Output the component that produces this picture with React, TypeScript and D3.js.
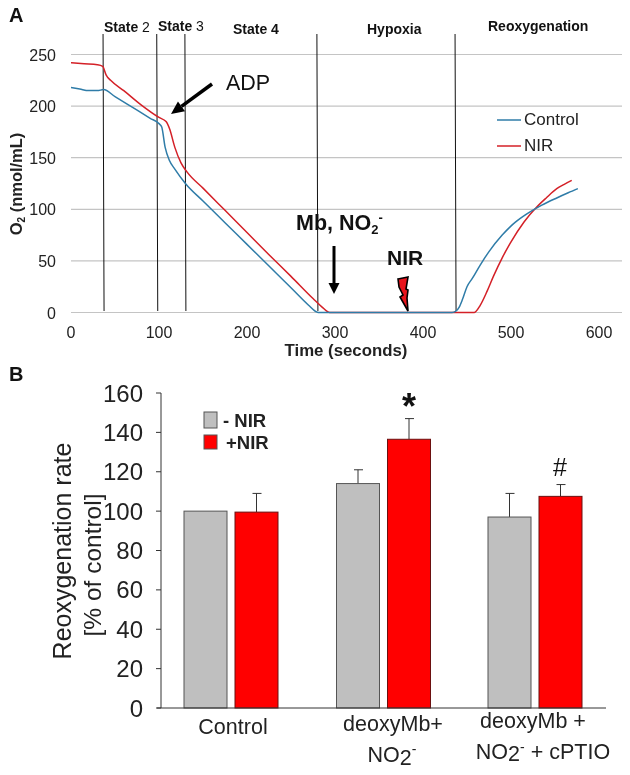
import React from "react";
import * as d3 from "d3";

const controlTime = [0,10,20,30,37,50,70,90,100,103,107,112,118,130,150,175,200,225,250,270,278,281,300,350,400,433,437,441,445,450,456,465,475,490,499,505,518,535,552,565,576];
const controlO2 = [218,216.5,215,215,216,209.2,198.7,188.2,183,180,160,147,139,125,108,87,66,45,24,7,1,0,0,0,0,0,1,5,13,25,33,46,59,75,83,87.5,95.5,104,111,116,120];
const nirTime = [0,15,30,36,40,45,60,80,100,108,112,118,125,132,150,175,200,225,250,275,285,294,300,350,400,458,465,473,480,490,499,515,529,540,552,560,569];
const nirO2 = [242,241,240,238.5,230,225,215,201,189,185,178,160,145,136,120.5,99,77.5,56,35,13.5,5.5,0,0,0,0,0,7,21,35,53,67,88,102,111,120,124,128];
const phaseTimes = [37, 98, 130, 280, 437];
const o2Ticks = [0,50,100,150,200,250];
const timeTicks = [0,100,200,300,400,500,600];

const categories = ["Control", "deoxyMb+NO2", "deoxyMb+NO2+cPTIO"];
const noNir = [100, 114, 97];
const noNirErr = [0, 7, 12];
const withNir = [99.5, 136.5, 107.5];
const withNirErr = [9.5, 10.5, 6];
const rateTicks = [0,20,40,60,80,100,120,140,160];

const SANS = "'Liberation Sans', Arial, sans-serif";
const BLUE = "#2f7ca8";
const RED = "#d42027";
const GRID = "#c4c4c4";

const xA = d3.scaleLinear().domain([0, 600]).range([71, 599]);
const yA = d3.scaleLinear().domain([0, 250]).range([312.5, 54.5]);
const lineA = d3.line<[number, number]>().x(d => xA(d[0])).y(d => yA(d[1])).curve(d3.curveMonotoneX);

const yB = d3.scaleLinear().domain([0, 160]).range([708, 393]);
const barW = 43;
const barGap = 8;
const catCenters = [231, 383.5, 535];

function Arrow({ x1, y1, x2, y2, w = 4, head = 13, half = 6 }: { x1: number; y1: number; x2: number; y2: number; w?: number; head?: number; half?: number }) {
  const a = Math.atan2(y2 - y1, x2 - x1);
  const bx = x2 - head * Math.cos(a);
  const by = y2 - head * Math.sin(a);
  const pts = [
    [x2, y2],
    [bx + half * Math.sin(a), by - half * Math.cos(a)],
    [bx - half * Math.sin(a), by + half * Math.cos(a)],
  ].map(p => p.join(",")).join(" ");
  return (
    <g>
      <line x1={x1} y1={y1} x2={bx} y2={by} stroke="#000" strokeWidth={w} />
      <polygon points={pts} fill="#000" />
    </g>
  );
}

export default function App() {
  const ctrl = controlTime.map((t, i) => [t, controlO2[i]] as [number, number]);
  const nir = nirTime.map((t, i) => [t, nirO2[i]] as [number, number]);
  const bolt = "M398,279 L408,277 L406,289 L408,290 L407,298 L408,311 L400,297 L403,295 L399,287 Z";
  return (
    <svg width={630} height={775} style={{ position: "absolute", left: 0, top: 0, background: "#fff", filter: "blur(0.4px)" }} fontFamily={SANS}>
      <text x={9} y={22} fontSize={20} fontWeight="bold" fill="#111">A</text>

      {o2Ticks.map(t => (
        <g key={t}>
          <line x1={71} x2={622} y1={yA(t)} y2={yA(t)} stroke={GRID} strokeWidth={1.2} />
          <text x={56} y={yA(t) + 6} textAnchor="end" fontSize={16} fill="#222">{t}</text>
        </g>
      ))}
      {timeTicks.map(t => (
        <text key={t} x={xA(t)} y={338} textAnchor="middle" fontSize={16} fill="#222">{t}</text>
      ))}

      {phaseTimes.map(t => (
        <line key={t} x1={xA(t) - 0.5} x2={xA(t) + 0.5} y1={34} y2={311} stroke="#111" strokeWidth={1} />
      ))}

      <path d={lineA(nir) ?? ""} fill="none" stroke={RED} strokeWidth={1.5} />
      <path d={lineA(ctrl) ?? ""} fill="none" stroke={BLUE} strokeWidth={1.5} />

      <text fontSize={14} y={32} x={104} fill="#111"><tspan fontWeight="bold">State</tspan> 2</text>
      <text fontSize={14} y={31} x={158} fill="#111"><tspan fontWeight="bold">State</tspan> 3</text>
      <text fontSize={14} y={34} x={233} fontWeight="bold" fill="#111">State 4</text>
      <text fontSize={14} y={34} x={367} fontWeight="bold" fill="#111">Hypoxia</text>
      <text fontSize={14} y={31} x={488} fontWeight="bold" fill="#111">Reoxygenation</text>

      <text transform="translate(22,184) rotate(-90)" textAnchor="middle" fontSize={16.5} fontWeight="bold" fill="#222">
        O<tspan fontSize={10} dy={3}>2</tspan><tspan dy={-3}> (nmol/mL)</tspan>
      </text>
      <text x={346} y={356} textAnchor="middle" fontSize={16.8} fontWeight="bold" fill="#222">Time (seconds)</text>

      <line x1={497} x2={521} y1={120} y2={120} stroke={BLUE} strokeWidth={1.5} />
      <text x={524} y={125} fontSize={17} fill="#222">Control</text>
      <line x1={497} x2={521} y1={146} y2={146} stroke={RED} strokeWidth={1.5} />
      <text x={524} y={151} fontSize={17} fill="#222">NIR</text>

      <Arrow x1={212} y1={84} x2={171} y2={114} w={3.5} head={13} half={6} />
      <text x={226} y={90} fontSize={21.5} fill="#111">ADP</text>

      <text x={296} y={230} fontSize={21.5} fontWeight="bold" fill="#111">
        Mb, NO<tspan fontSize={13} dy={4}>2</tspan><tspan fontSize={13} dy={-12}>-</tspan>
      </text>
      <Arrow x1={334} y1={246} x2={334} y2={294} w={3} head={11} half={5.5} />
      <text x={387} y={265} fontSize={21} fontWeight="bold" fill="#111">NIR</text>
      <path d={bolt} fill="#e8141c" stroke="#000" strokeWidth={1.6} strokeLinejoin="miter" />

      <text x={9} y={381} fontSize={20} fontWeight="bold" fill="#111">B</text>

      {categories.map((c, i) => {
        const cx = catCenters[i];
        const bars = [
          { x: cx - barGap / 2 - barW, v: noNir[i], e: noNirErr[i], fill: "#bfbfbf", edge: "#555" },
          { x: cx + barGap / 2, v: withNir[i], e: withNirErr[i], fill: "#ff0000", edge: "#6b1010" },
        ];
        return (
          <g key={c}>
            {bars.map((b, j) => (
              <g key={j}>
                {b.e > 0 && (
                  <g stroke="#333" strokeWidth={1}>
                    <line x1={b.x + barW / 2} x2={b.x + barW / 2} y1={yB(b.v)} y2={yB(b.v + b.e)} />
                    <line x1={b.x + barW / 2 - 4} x2={b.x + barW / 2 + 5} y1={yB(b.v + b.e)} y2={yB(b.v + b.e)} />
                  </g>
                )}
                <rect x={b.x} y={yB(b.v)} width={barW} height={yB(0) - yB(b.v)} fill={b.fill} stroke={b.edge} strokeWidth={1} />
              </g>
            ))}
          </g>
        );
      })}

      <line x1={161} x2={161} y1={yB(160)} y2={yB(0)} stroke="#333" strokeWidth={1} />
      <line x1={157} x2={606} y1={yB(0)} y2={yB(0)} stroke="#333" strokeWidth={1} />
      {rateTicks.map(t => (
        <g key={t}>
          <line x1={156} x2={161} y1={yB(t)} y2={yB(t)} stroke="#333" strokeWidth={1} />
          <text x={143} y={yB(t) + 8.5} textAnchor="end" fontSize={24} fill="#222">{t}</text>
        </g>
      ))}

      <text transform="translate(71,551) rotate(-90)" textAnchor="middle" fontSize={25} fill="#222">Reoxygenation rate</text>
      <text transform="translate(101,565) rotate(-90)" textAnchor="middle" fontSize={24.5} fill="#222">[% of control]</text>

      <rect x={204} y={412} width={13} height={16} fill="#bfbfbf" stroke="#555" />
      <text x={223} y={427} fontSize={18.5} fontWeight="bold" fill="#222">- NIR</text>
      <rect x={204} y={435} width={13} height={14} fill="#ff0000" stroke="#555" />
      <text x={226} y={449} fontSize={18.5} fontWeight="bold" fill="#222">+NIR</text>

      <text x={409} y={419} textAnchor="middle" fontSize={36} fontWeight="bold" fill="#111">*</text>
      <text x={560} y={476} textAnchor="middle" fontSize={25} fill="#111">#</text>

      <text x={233} y={734} textAnchor="middle" fontSize={21.5} fill="#222">Control</text>
      <text x={393} y={731} textAnchor="middle" fontSize={21.5} fill="#222">deoxyMb+</text>
      <text x={392} y={762} textAnchor="middle" fontSize={21.5} fill="#222">NO<tspan dy={3}>2</tspan><tspan fontSize={14} dy={-11}>-</tspan></text>
      <text x={533} y={728} textAnchor="middle" fontSize={21.5} fill="#222">deoxyMb +</text>
      <text x={543} y={759} textAnchor="middle" fontSize={21.5} fill="#222">NO<tspan dy={2}>2</tspan><tspan fontSize={14} dy={-9}>-</tspan><tspan dy={7}> + cPTIO</tspan></text>
    </svg>
  );
}
